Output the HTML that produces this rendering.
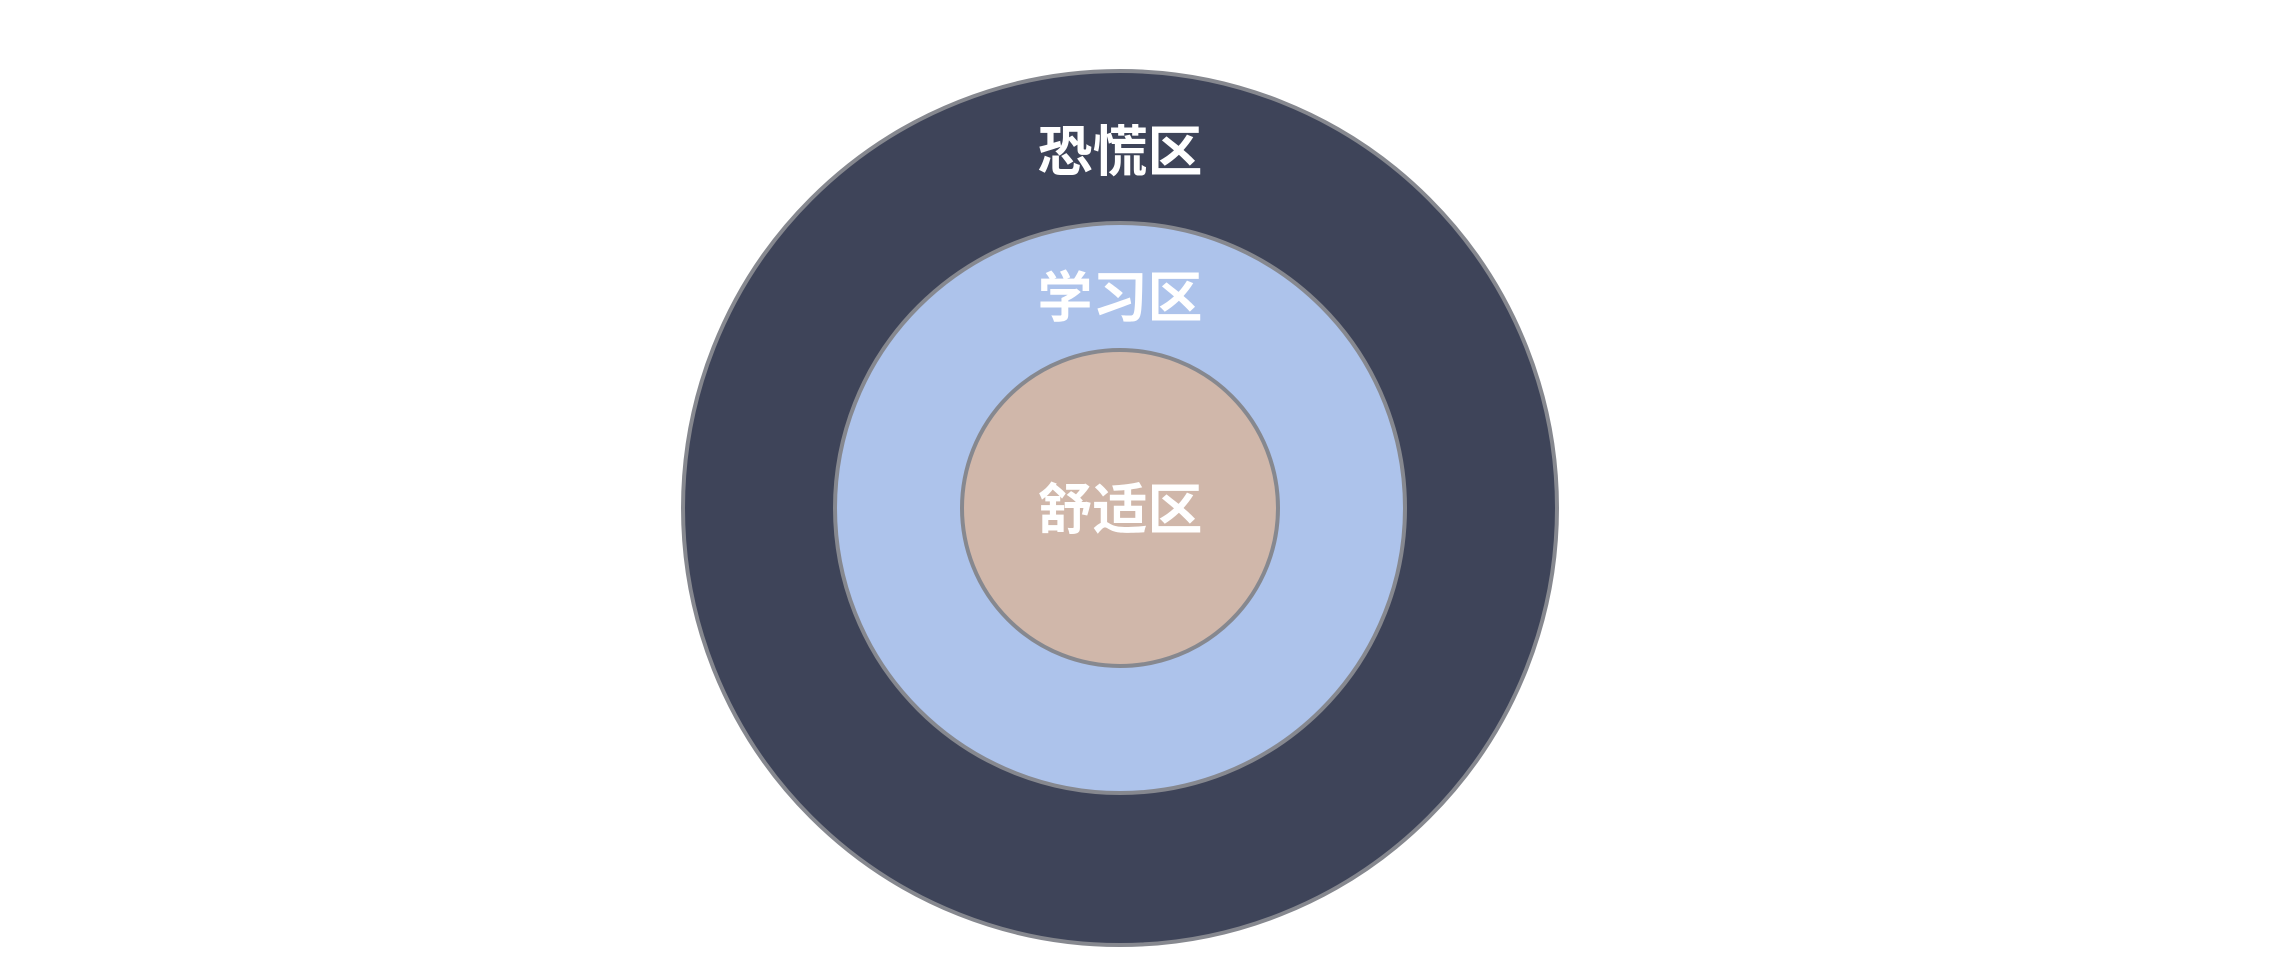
<!DOCTYPE html>
<html><head><meta charset="utf-8"><style>
html,body{margin:0;padding:0;background:#fff;width:2284px;height:976px;overflow:hidden}
text{font-family:"Liberation Sans","Noto Sans CJK SC",sans-serif;font-weight:bold;fill:#fff;font-size:55px}
</style></head><body>
<svg width="2284" height="976" xmlns="http://www.w3.org/2000/svg">
<circle cx="1120" cy="508" r="437" fill="#3e4459" stroke="#86888f" stroke-width="4"/>
<circle cx="1120" cy="508" r="285" fill="#adc3eb" stroke="#86888f" stroke-width="4"/>
<circle cx="1120" cy="508" r="158" fill="#d0b7aa" stroke="#86888f" stroke-width="4"/>
<text x="1120" y="152" text-anchor="middle" dominant-baseline="central">恐慌区</text>
<text x="1120" y="298" text-anchor="middle" dominant-baseline="central">学习区</text>
<text x="1120" y="510" text-anchor="middle" dominant-baseline="central">舒适区</text>
</svg>
</body></html>
